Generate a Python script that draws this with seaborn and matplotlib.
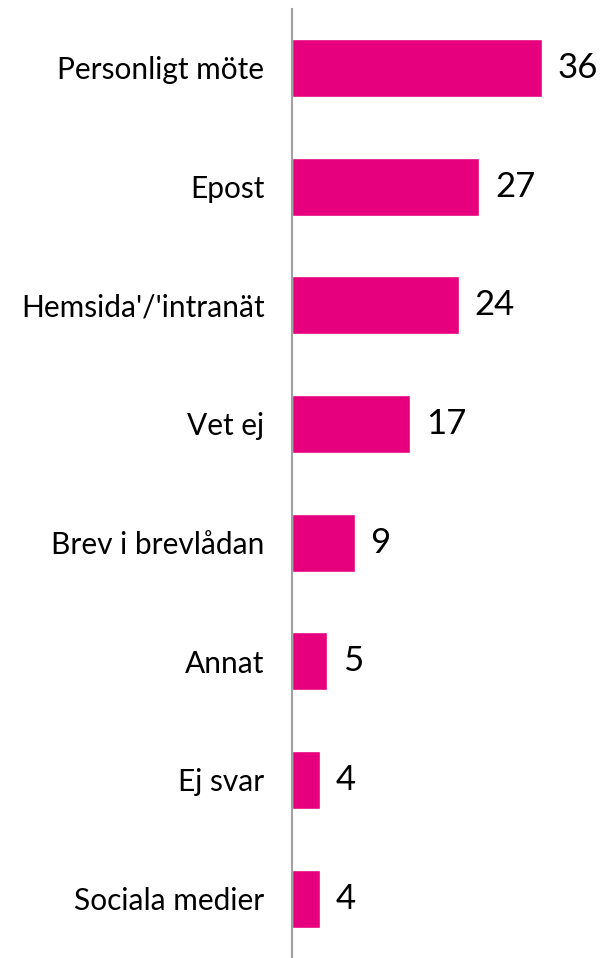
import matplotlib
matplotlib.use("Agg")
import matplotlib.pyplot as plt
import seaborn as sns
import pandas as pd

# ── Data ───────────────────────────────────────────────────────────────────────

categories = [
    "Personligt möte", "Epost", "Hemsida'/'intranät", "Vet ej",
    "Brev i brevlådan", "Annat", "Ej svar", "Sociala medier",
]
values = [36, 27, 24, 17, 9, 5, 4, 4]

BAR_COLOR = "#E6007E"

# ── Plot ───────────────────────────────────────────────────────────────────────

sns.set_style("white")
plt.rcParams["font.family"] = ["Lato", "DejaVu Sans"]

df = pd.DataFrame({"category": categories, "value": values})

fig = plt.figure(figsize=(6.0, 9.58), dpi=100)
ax = fig.add_axes([0.487, 0.0, 0.513, 0.991])

sns.barplot(data=df, x="value", y="category", color=BAR_COLOR,
            width=0.49, saturation=1, ax=ax)

for i, v in enumerate(values):
    ax.text(v + 2.3, i, str(v), va="center", ha="left", fontsize=25, color="black")

ax.set_xlim(0, 44.4)
ax.set_ylim(7.5, -0.5)
ax.set_xlabel("")
ax.set_ylabel("")
ax.set_xticks([])
ax.tick_params(axis="y", length=0, pad=20, labelsize=21.5, labelcolor="black")

for side in ["top", "right", "bottom"]:
    ax.spines[side].set_visible(False)
ax.spines["left"].set_color("#a0a0a0")
ax.spines["left"].set_linewidth(1.5)

fig.savefig("out.png", dpi=100)
plt.close(fig)
